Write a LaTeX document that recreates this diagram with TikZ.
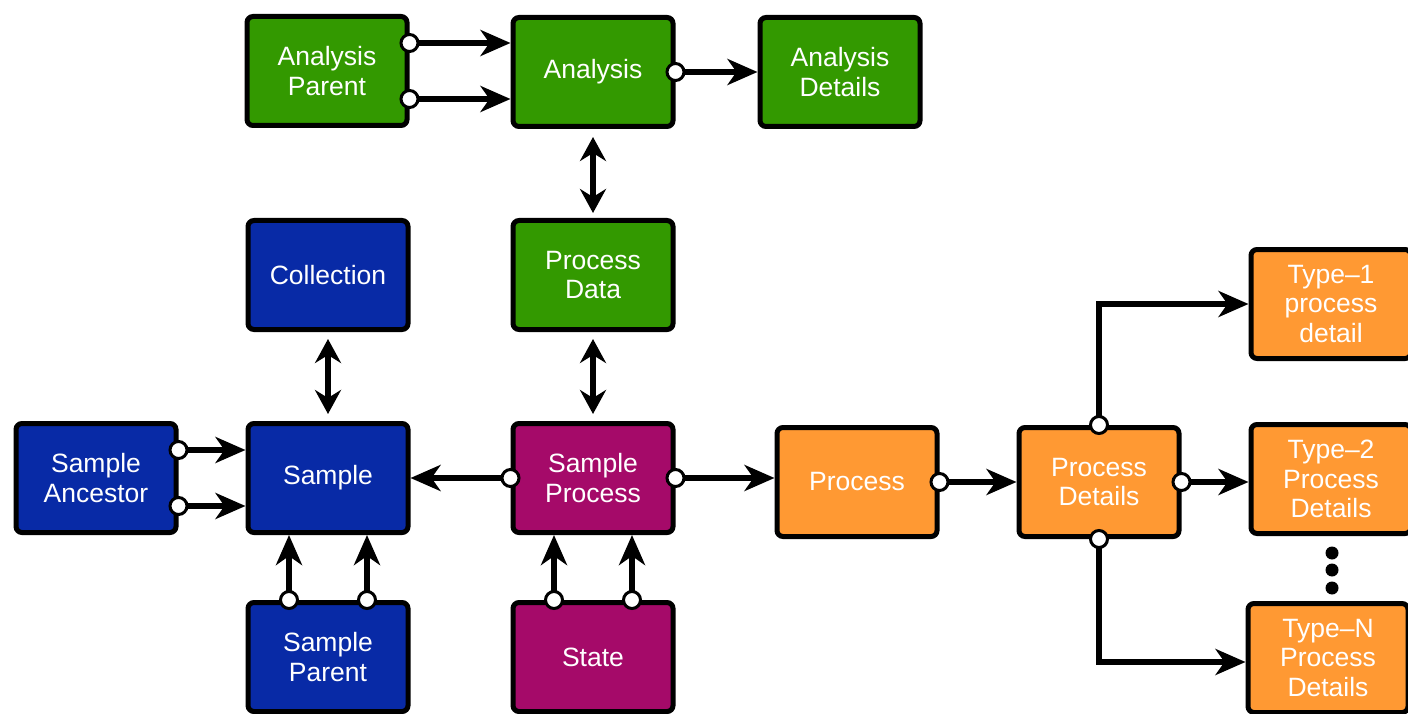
\documentclass[tikz,border=0pt]{standalone}
\usepackage{fontspec}
\setmainfont{Liberation Sans}
\usetikzlibrary{arrows.meta,positioning}
\definecolor{anagreen}{RGB}{51,153,0}
\definecolor{smpblue}{RGB}{8,42,166}
\definecolor{procpurple}{RGB}{165,10,105}
\definecolor{detorange}{RGB}{255,153,51}

\begin{document}
\begin{tikzpicture}[x=1pt,y=-1pt,
    box/.style={draw=black,line width=5pt,rounded corners=6pt,minimum width=160pt,
      minimum height=109pt,text=white,align=center,font=\fontsize{26.5}{29.5}\selectfont},
    green box/.style={box,fill=anagreen},
    blue box/.style={box,fill=smpblue},
    purple box/.style={box,fill=procpurple},
    orange box/.style={box,fill=detorange},
    link/.style={line width=5.5pt,-{Stealth[length=30pt,width=26pt,inset=9pt]}},
    both/.style={line width=5.5pt,{Stealth[length=24pt,width=26pt,inset=8pt]}-{Stealth[length=24pt,width=26pt,inset=8pt]}},
    port/.style={circle,draw=black,fill=white,line width=3pt,minimum size=17pt,inner sep=0pt}]
  \useasboundingbox (0,0) rectangle (1408,714);

  % analysis row
  \node[green box] (apar) at (327,71) {Analysis\\Parent};
  \node[green box] (ana) at (593,72) {Analysis};
  \node[green box] (adet) at (840,72) {Analysis\\Details};
  % middle row
  \node[blue box] (coll) at (328,275) {Collection};
  \node[green box] (pdat) at (593,275) {Process\\Data};
  % sample row
  \node[blue box] (sanc) at (96,478) {Sample\\Ancestor};
  \node[blue box] (smp) at (328,478) {Sample};
  \node[purple box] (sproc) at (593,478) {Sample\\Process};
  \node[orange box] (proc) at (857,482) {Process};
  \node[orange box] (pdet) at (1099,482) {Process\\Details};
  % detail types
  \node[orange box] (type1) at (1331,304) {Type–1\\process\\detail};
  \node[orange box] (type2) at (1331,479) {Type–2\\Process\\Details};
  \node[orange box] (typeN) at (1328,658) {Type–N\\Process\\Details};
  % bottom row
  \node[blue box] (spar) at (328,657) {Sample\\Parent};
  \node[purple box] (state) at (593,657) {State};

  \foreach \y in {553,570,588}
    \fill (1332,\y) circle (6.5pt);

  % connectors
  \foreach \s in {28,-28}{
    \draw[link] ([yshift=\s pt]apar.east) -- ([yshift=\s pt]apar.east -| ana.west);
    \draw[link] ([yshift=\s pt]sanc.east) -- ([yshift=\s pt]sanc.east -| smp.west);
  }
  \foreach \s in {-39,39}{
    \draw[link] ([xshift=\s pt]spar.north) -- ([xshift=\s pt]smp.south);
    \draw[link] ([xshift=\s pt]state.north) -- ([xshift=\s pt]sproc.south);
  }
  \draw[link] (ana.east) -- (ana.east -| adet.west);
  \draw[both,shorten <=8pt,shorten >=5pt] (ana.south) -- (pdat.north);
  \draw[both,shorten <=7pt,shorten >=7pt] (coll.south) -- (smp.north);
  \draw[both,shorten <=7pt,shorten >=7pt] (pdat.south) -- (sproc.north);
  \draw[link] (sproc.west) -- (sproc.west -| smp.east);
  \draw[link] (sproc.east) -- (sproc.east -| proc.west);
  \draw[link] (proc.east) -- (pdet.west);
  \draw[link] (pdet.east) -- (pdet.east -| type2.west);
  \draw[link] (pdet.north) |- (type1.west);
  \draw[link] (pdet.south) |- ([yshift=-4pt]typeN.west);

  % ports
  \foreach \s in {28,-28}{
    \node[port] at ([yshift=\s pt]apar.east) {};
    \node[port] at ([yshift=\s pt]sanc.east) {};
  }
  \foreach \s in {-39,39}{
    \node[port] at ([xshift=\s pt]spar.north) {};
    \node[port] at ([xshift=\s pt]state.north) {};
  }
  \node[port] at (ana.east) {};
  \node[port] at (sproc.west) {};
  \node[port] at (sproc.east) {};
  \node[port] at (proc.east) {};
  \node[port] at (pdet.east) {};
  \node[port] at (pdet.north) {};
  \node[port] at (pdet.south) {};
\end{tikzpicture}
\end{document}
